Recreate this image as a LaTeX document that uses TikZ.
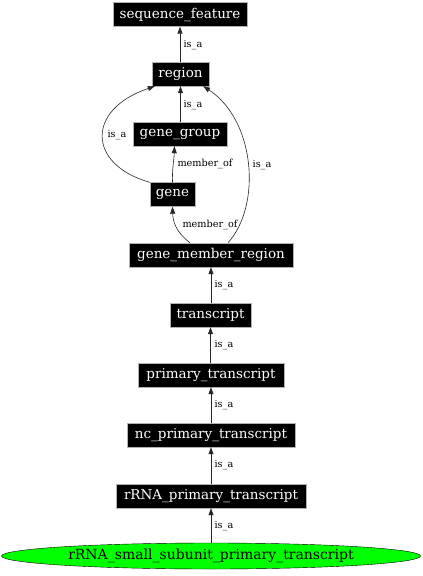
\documentclass[tikz,border=0pt]{standalone}
\usepackage{fontspec}
\setmainfont{DejaVu Serif}
\usetikzlibrary{arrows.meta,shapes.geometric}
\begin{document}
\begin{tikzpicture}[x=1pt,y=-1pt,
  term/.style={draw=gray!60,fill=black,text=white,inner sep=0pt,minimum height=24pt,font=\fontsize{13.5}{14}\selectfont},
  leaf/.style={ellipse,draw=black,fill=green,inner sep=0pt,minimum height=26pt,minimum width=419pt,font=\fontsize{14}{15}\selectfont},
  arr/.style={draw=black!85,line width=0.6pt,-{Triangle[length=7pt,width=5pt]}},
  lab/.style={font=\fontsize{9.7}{10}\selectfont,inner sep=0pt}]
\useasboundingbox (0,0) rectangle (423,576);
\node[term,minimum width=134pt] (sf) at (180,14.5) {sequence\_feature};
\node[term,minimum width=57pt] (region) at (180.5,74) {region};
\node[term,minimum width=94pt] (gg) at (180,134) {gene\_group};
\node[term,minimum width=45pt] (gene) at (172.5,194.5) {gene};
\node[term,minimum width=164pt] (gmr) at (211,255) {gene\_member\_region};
\node[term,minimum width=81pt] (tr) at (210.5,315) {transcript};
\node[term,minimum width=146pt] (pt) at (211,375) {primary\_transcript};
\node[term,minimum width=168pt] (nc) at (211,435) {nc\_primary\_transcript};
\node[term,minimum width=190pt] (rp) at (211,496) {rRNA\_primary\_transcript};
\node[leaf] (ss) at (211,556) {rRNA\_small\_subunit\_primary\_transcript};

\draw[arr] (region.north -| sf.south) -- (sf.south);
\node[lab] (l1) at (193,45) {is\_a};
\draw[arr] (gg.north -| region.south) -- (region.south);
\node[lab] (l2) at (193,105) {is\_a};
\draw[arr] (gene.north west) .. controls (88,165) and (85,110) .. ([xshift=3pt]region.south west);
\node[lab] (l3) at (117,135) {is\_a};
\draw[arr] ([xshift=0pt]gene.north) .. controls (172,170) and (174,160) .. ([xshift=-5.5pt]gg.south);
\node[lab] (l4) at (205,164) {member\_of};
\draw[arr] ([xshift=-21pt]gmr.north) .. controls (176,232) and (173,222) .. (gene.south);
\node[lab] (l5) at (210,225) {member\_of};
\draw[arr] ([xshift=17pt]gmr.north) .. controls (262,205) and (255,120) .. ([xshift=-6pt]region.south east);
\node[lab] (l6) at (262,165) {is\_a};
\draw[arr] (tr.north -| gmr.south) -- (gmr.south);
\node[lab] (l7) at (224,285) {is\_a};
\draw[arr] (pt.north -| tr.south) -- (tr.south);
\node[lab] (l8) at (224,345) {is\_a};
\draw[arr] (nc.north) -- (pt.south);
\node[lab] (l9) at (224,405) {is\_a};
\draw[arr] (rp.north) -- (nc.south);
\node[lab] (l10) at (224,465) {is\_a};
\draw[arr] (ss.north) -- (rp.south);
\node[lab] (l11) at (224,526) {is\_a};
\end{tikzpicture}
\end{document}
